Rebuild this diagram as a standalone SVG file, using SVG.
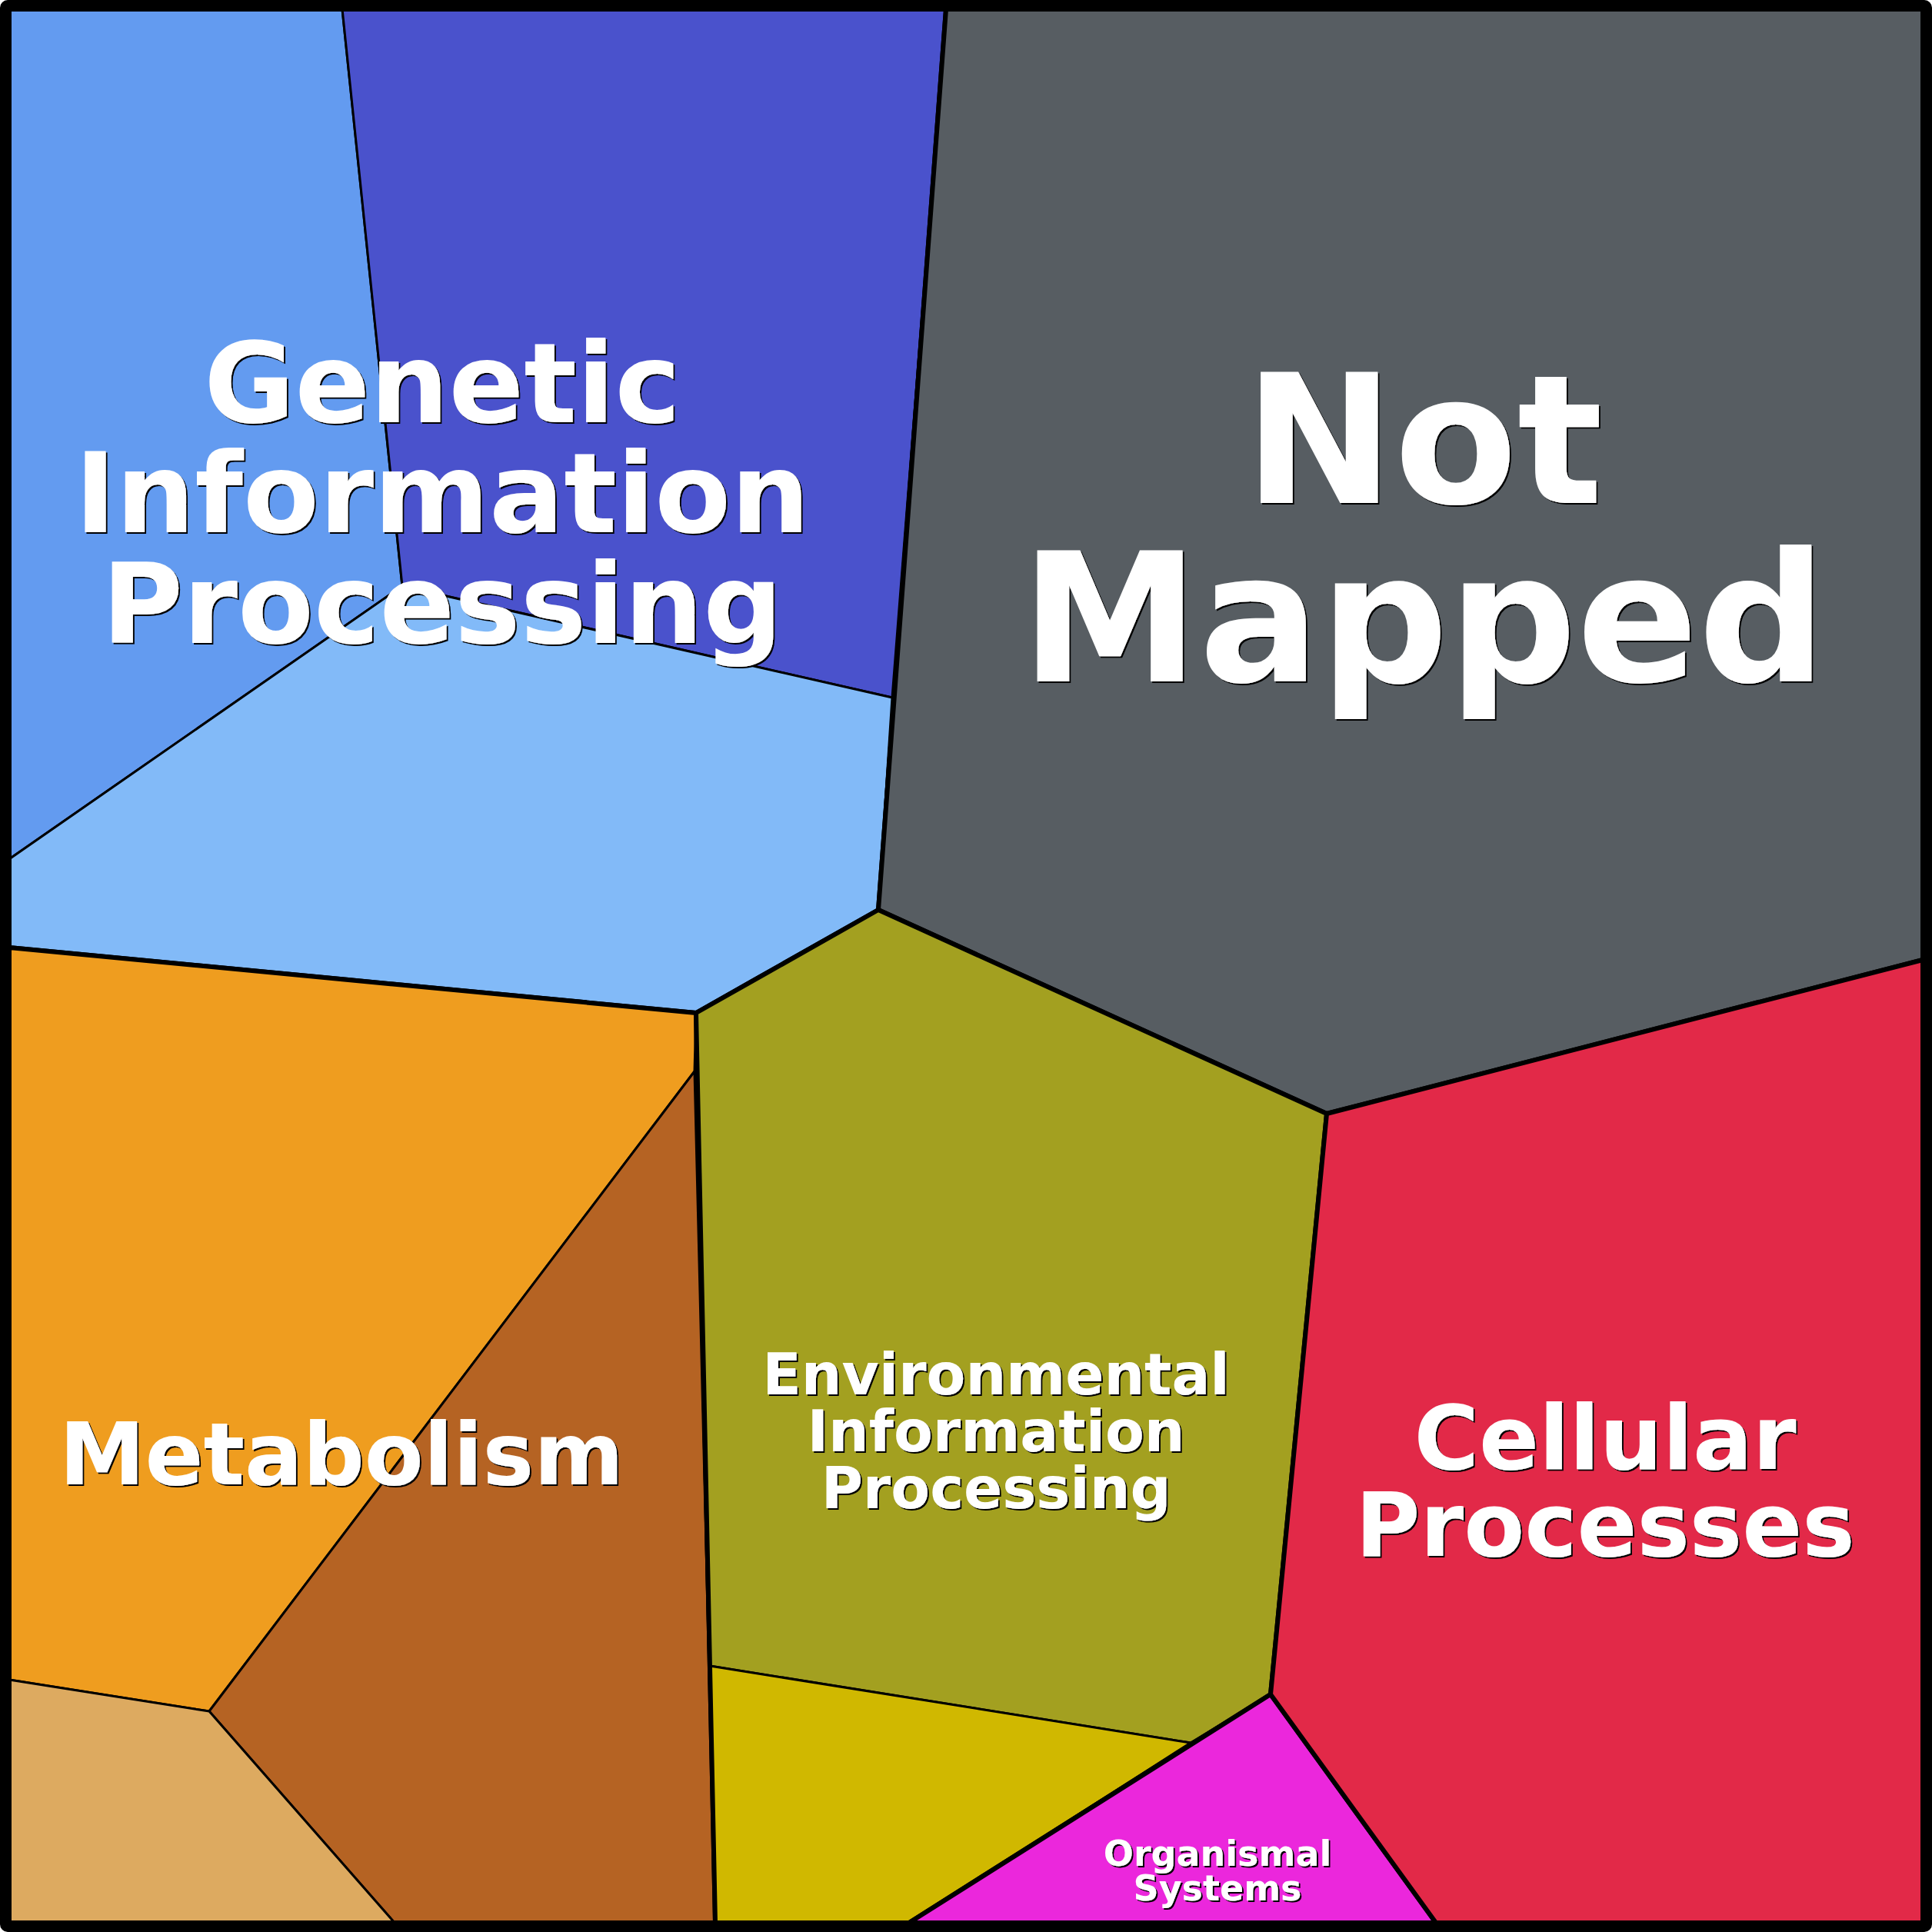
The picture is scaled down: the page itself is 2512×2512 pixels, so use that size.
<svg xmlns="http://www.w3.org/2000/svg" width="2512" height="2512" viewBox="0 0 2512 2512">
<defs>
<filter id="shadow" x="-5%" y="-5%" width="110%" height="120%">
<feDropShadow dx="2" dy="2" stdDeviation="0.6" flood-color="#000" flood-opacity="1"/>
</filter>
</defs>
<style>
.sub{stroke:#000;stroke-width:3;stroke-linejoin:round}
.top{stroke:#000;stroke-width:6;stroke-linejoin:round}
.lbl{font-family:"DejaVu Sans","Liberation Sans",sans-serif;font-weight:bold;text-anchor:middle;fill:#fff;filter:url(#shadow)}
</style>
<rect x="0" y="0" width="2512" height="2512" fill="#fff"/>
<g id="genetic-information-processing">
<polygon class="sub" fill="#639BF0" points="12,12 445,12 523,762 12,1117"/>
<polygon class="sub" fill="#4A52CC" points="445,12 1230,12 1160,907 523,762"/>
<polygon class="sub" fill="#82BAF8" points="12,1117 523,762 1160,907 1142,1183 905,1317 12,1232"/>
<polygon class="top" fill="none" points="12,12 1230,12 1142,1183 905,1317 12,1232"/>
</g>
<g id="not-mapped">
<polygon class="top" fill="#575D62" points="1230,12 2500,12 2500,1248 1725,1448 1142,1183"/>
</g>
<g id="metabolism">
<polygon class="sub" fill="#EF9D1F" points="12,1232 905,1317 903,1393 272,2225 12,2184"/>
<polygon class="sub" fill="#B56323" points="903,1393 272,2225 513,2500 930,2500"/>
<polygon class="sub" fill="#DDAA60" points="12,2184 272,2225 513,2500 12,2500"/>
<polygon class="top" fill="none" points="12,1232 905,1317 930,2500 12,2500"/>
</g>
<g id="environmental-information-processing">
<polygon class="sub" fill="#A3A020" points="905,1317 1142,1183 1725,1448 1652,2203 1548,2266 923,2166"/>
<polygon class="sub" fill="#D0B800" points="923,2166 1548,2266 1182,2500 930,2500"/>
<polygon class="top" fill="none" points="905,1317 1142,1183 1725,1448 1652,2203 1182,2500 930,2500"/>
</g>
<g id="organismal-systems">
<polygon class="top" fill="#EB27DC" points="1652,2203 1867,2500 1182,2500"/>
</g>
<g id="cellular-processes">
<polygon class="top" fill="#E22948" points="1725,1448 2500,1248 2500,2500 1867,2500 1652,2203"/>
</g>
<g id="connectors"></g>
<rect x="6" y="6" width="2500" height="2500" fill="none" stroke="#000" stroke-width="12" rx="4"/>
<g id="labels" class="lbl">
<text font-size="144" x="575"><tspan x="575" y="549">Genetic</tspan><tspan x="575" y="692">Information</tspan><tspan x="575" y="836">Processing</tspan></text>
<text font-size="233" x="1851"><tspan x="1851" y="654">Not</tspan><tspan x="1851" y="886">Mapped</tspan></text>
<text font-size="115" x="2087"><tspan x="2087" y="1910">Cellular</tspan><tspan x="2087" y="2023">Processes</tspan></text>
<text font-size="112" x="444" y="1930">Metabolism</text>
<text font-size="74" x="1295"><tspan x="1295" y="1813">Environmental</tspan><tspan x="1295" y="1887">Information</tspan><tspan x="1295" y="1961">Processing</tspan></text>
<text font-size="46" x="1583"><tspan x="1583" y="2426">Organismal</tspan><tspan x="1583" y="2471">Systems</tspan></text>
</g>
</svg>
